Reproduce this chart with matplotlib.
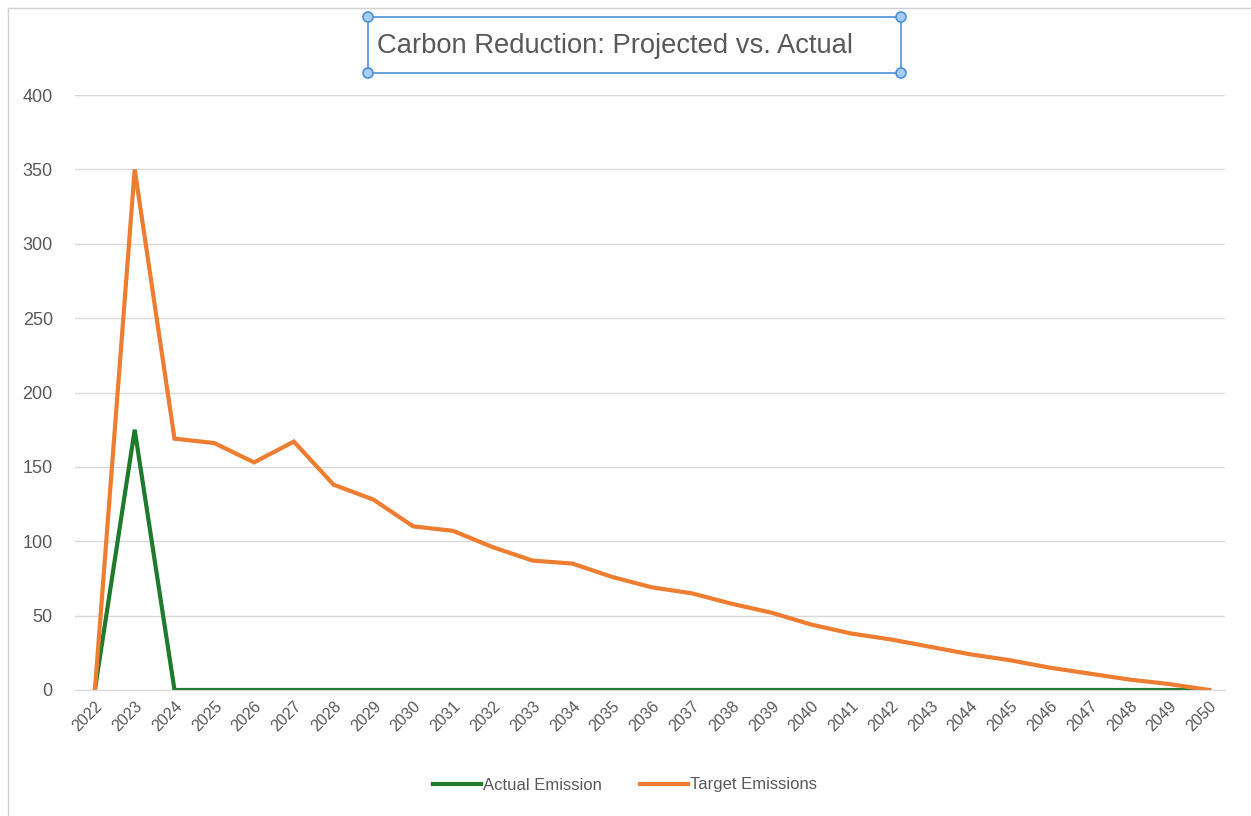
import matplotlib
matplotlib.use("Agg")
import matplotlib.pyplot as plt
from matplotlib.lines import Line2D
from matplotlib.patches import Rectangle, Circle

years = [str(y) for y in range(2022, 2051)]
actual = [0, 175] + [0] * 27
target = [0, 350, 169, 166, 153, 167, 138, 128, 110, 107, 96, 87, 85, 76, 69,
          65, 58, 52, 44, 38, 34, 29, 24, 20, 15, 11, 7, 4, 0]

plt.rcParams['font.family'] = ['Liberation Sans', 'DejaVu Sans']
grey = '#595959'

fig = plt.figure(figsize=(12.51, 8.16), dpi=100)
ax = fig.add_axes([75 / 1251, 126 / 816, 1150 / 1251, 595 / 816])

x = list(range(len(years)))
ax.plot(x, actual, color='#1e7a2c', lw=3, label='Actual Emission', solid_joinstyle='miter')
ax.plot(x, target, color='#ed7d31', lw=3, label='Target Emissions', solid_joinstyle='miter')

ax.set_ylim(0, 400)
ax.set_yticks(range(0, 401, 50))
ax.set_xlim(-0.5, 28.4)
ax.set_xticks(x)
ax.set_xticklabels(years, rotation=45, ha='right', rotation_mode='anchor',
                   color=grey, fontsize=11.5)
ax.tick_params(axis='y', colors=grey, labelsize=13, length=0, pad=16)
ax.tick_params(axis='x', length=0, pad=6)
ax.grid(axis='y', color='#d9d9d9', lw=1)
ax.set_axisbelow(True)
for s in ['top', 'right', 'left']:
    ax.spines[s].set_visible(False)
ax.spines['bottom'].set_color('#d9d9d9')

leg = fig.legend(loc='center', bbox_to_anchor=(625 / 1251, 1 - 785 / 816), ncol=2, frameon=False,
                 fontsize=12, handlelength=2.9, handletextpad=0.1, columnspacing=2.3)
for t in leg.get_texts():
    t.set_color(grey)

# chart frame (top and left edges)
fig.add_artist(Line2D([8 / 1251, 1], [1 - 8 / 816] * 2, color='#d0d0d0', lw=1))
fig.add_artist(Line2D([8 / 1251] * 2, [0, 1 - 8 / 816], color='#d0d0d0', lw=1))

# selected title box
x0, y0, x1, y1 = 368 / 1251, 1 - 73 / 816, 901 / 1251, 1 - 17 / 816
fig.add_artist(Rectangle((x0, y0), x1 - x0, y1 - y0, fill=False, ec='#4a90d9', lw=1.2))
for cx, cy in [(x0, y0), (x0, y1), (x1, y0), (x1, y1)]:
    fig.add_artist(Circle((cx * 1251, cy * 816), 5, transform=None, fc='#a8cdf2',
                          ec='#4a90d9', lw=1.2))
fig.text(377 / 1251, 1 - 46 / 816, 'Carbon Reduction: Projected vs. Actual',
         color=grey, fontsize=19.7, va='center', ha='left')

fig.savefig('out.png', dpi=100)
